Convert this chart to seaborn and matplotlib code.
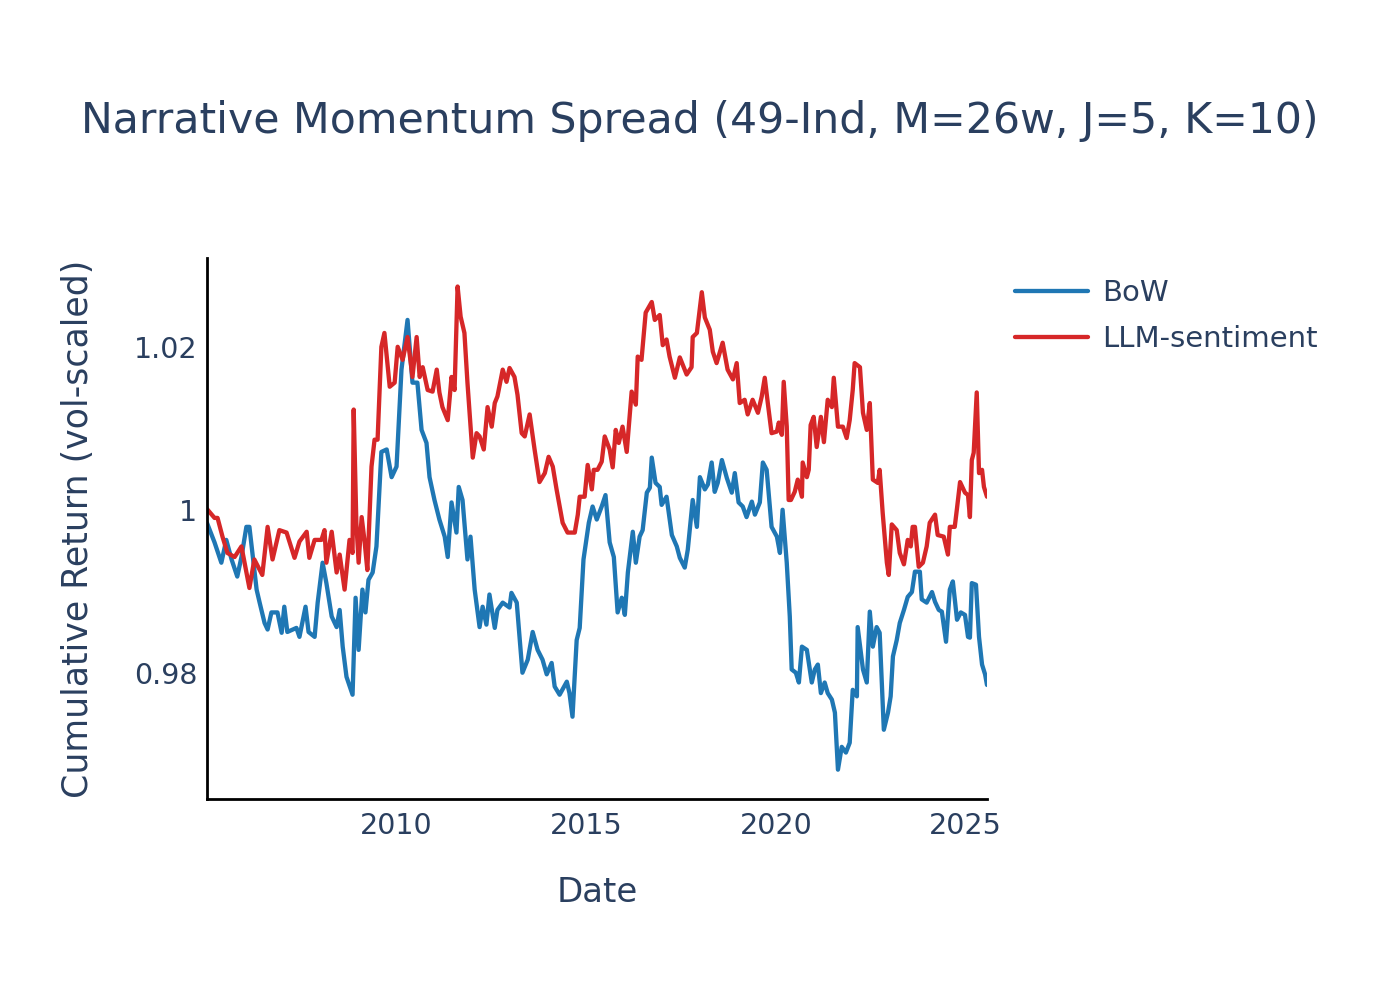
import pandas as pd
import matplotlib.pyplot as plt
from matplotlib.ticker import FuncFormatter
import seaborn as sns

# values (decimal year, cumulative return)
bow_year = [2005.00, 2005.20, 2005.38, 2005.51, 2005.65, 2005.80, 2005.91, 2006.04, 2006.12, 2006.20,
            2006.31, 2006.39, 2006.52, 2006.60, 2006.70, 2006.86, 2006.97, 2007.04, 2007.12, 2007.36,
            2007.44, 2007.60, 2007.68, 2007.84, 2007.92, 2008.05, 2008.15, 2008.29, 2008.42, 2008.50,
            2008.58, 2008.68, 2008.84, 2008.92, 2009.00, 2009.10, 2009.18, 2009.26, 2009.37, 2009.47,
            2009.60, 2009.74, 2009.87, 2010.00, 2010.13, 2010.29, 2010.42, 2010.55, 2010.66, 2010.79,
            2010.87, 2011.00, 2011.13, 2011.27, 2011.35, 2011.45, 2011.58, 2011.64, 2011.74, 2011.87,
            2011.95, 2012.06, 2012.19, 2012.27, 2012.37, 2012.45, 2012.59, 2012.66, 2012.80, 2012.98,
            2013.03, 2013.17, 2013.32, 2013.46, 2013.59, 2013.72, 2013.85, 2013.96, 2014.09, 2014.17,
            2014.30, 2014.49, 2014.56, 2014.64, 2014.75, 2014.83, 2014.93, 2015.07, 2015.17, 2015.28,
            2015.41, 2015.51, 2015.62, 2015.73, 2015.83, 2015.94, 2016.02, 2016.10, 2016.23, 2016.31,
            2016.41, 2016.49, 2016.60, 2016.68, 2016.73, 2016.83, 2016.94, 2016.99, 2017.12, 2017.26,
            2017.39, 2017.47, 2017.60, 2017.68, 2017.81, 2017.92, 2018.00, 2018.13, 2018.21, 2018.31,
            2018.39, 2018.47, 2018.58, 2018.71, 2018.84, 2018.92, 2019.02, 2019.13, 2019.23, 2019.37,
            2019.45, 2019.58, 2019.66, 2019.76, 2019.89, 2020.03, 2020.11, 2020.18, 2020.29, 2020.37,
            2020.42, 2020.53, 2020.61, 2020.69, 2020.82, 2020.95, 2021.03, 2021.11, 2021.19, 2021.29,
            2021.37, 2021.48, 2021.56, 2021.64, 2021.74, 2021.85, 2021.95, 2022.03, 2022.14, 2022.16,
            2022.30, 2022.40, 2022.48, 2022.56, 2022.66, 2022.74, 2022.85, 2022.96, 2023.03, 2023.09,
            2023.19, 2023.27, 2023.38, 2023.48, 2023.59, 2023.67, 2023.80, 2023.85, 2023.98, 2024.12,
            2024.20, 2024.30, 2024.38, 2024.49, 2024.59, 2024.67, 2024.78, 2024.88, 2024.99, 2025.07,
            2025.12, 2025.17, 2025.28, 2025.36, 2025.44, 2025.52, 2025.57]
bow_ret = [0.9984, 0.9960, 0.9935, 0.9963, 0.9939, 0.9918, 0.9942, 0.9979, 0.9979, 0.9947,
           0.9902, 0.9886, 0.9861, 0.9853, 0.9874, 0.9874, 0.9849, 0.9881, 0.9850, 0.9855,
           0.9844, 0.9881, 0.9850, 0.9844, 0.9886, 0.9935, 0.9910, 0.9869, 0.9856, 0.9877,
           0.9832, 0.9795, 0.9773, 0.9892, 0.9828, 0.9902, 0.9874, 0.9914, 0.9923, 0.9955,
           1.0071, 1.0074, 1.0040, 1.0053, 1.0172, 1.0233, 1.0156, 1.0156, 1.0098, 1.0082,
           1.0040, 1.0012, 0.9988, 0.9967, 0.9942, 1.0009, 0.9972, 1.0028, 1.0012, 0.9939,
           0.9967, 0.9902, 0.9856, 0.9881, 0.9859, 0.9896, 0.9855, 0.9877, 0.9886, 0.9880,
           0.9898, 0.9886, 0.9800, 0.9816, 0.9850, 0.9828, 0.9816, 0.9798, 0.9812, 0.9783,
           0.9773, 0.9789, 0.9775, 0.9746, 0.9840, 0.9855, 0.9939, 0.9984, 1.0004, 0.9988,
           1.0004, 1.0018, 0.9960, 0.9942, 0.9874, 0.9892, 0.9871, 0.9923, 0.9973, 0.9935,
           0.9967, 0.9975, 1.0021, 1.0027, 1.0064, 1.0033, 1.0028, 1.0006, 1.0016, 0.9969,
           0.9955, 0.9941, 0.9929, 0.9951, 1.0012, 0.9979, 1.0040, 1.0025, 1.0031, 1.0058,
           1.0022, 1.0033, 1.0061, 1.0039, 1.0021, 1.0045, 1.0009, 1.0004, 0.9991, 1.0010,
           0.9994, 1.0009, 1.0058, 1.0049, 0.9979, 0.9967, 0.9947, 1.0000, 0.9935, 0.9869,
           0.9804, 0.9800, 0.9788, 0.9832, 0.9828, 0.9788, 0.9804, 0.9810, 0.9775, 0.9788,
           0.9775, 0.9767, 0.9751, 0.9681, 0.9709, 0.9702, 0.9714, 0.9779, 0.9771, 0.9856,
           0.9804, 0.9788, 0.9875, 0.9832, 0.9856, 0.9849, 0.9730, 0.9751, 0.9771, 0.9820,
           0.9840, 0.9861, 0.9877, 0.9893, 0.9899, 0.9924, 0.9924, 0.9890, 0.9886, 0.9899,
           0.9887, 0.9877, 0.9875, 0.9838, 0.9902, 0.9912, 0.9865, 0.9874, 0.9871, 0.9844,
           0.9843, 0.9910, 0.9908, 0.9844, 0.9810, 0.9798, 0.9785]

llm_year = [2005.00, 2005.20, 2005.28, 2005.41, 2005.54, 2005.73, 2005.91, 2006.12, 2006.25, 2006.46,
            2006.60, 2006.73, 2006.91, 2007.10, 2007.31, 2007.44, 2007.63, 2007.70, 2007.84, 2008.02,
            2008.10, 2008.15, 2008.29, 2008.42, 2008.50, 2008.63, 2008.76, 2008.84, 2008.87, 2008.94,
            2009.00, 2009.08, 2009.16, 2009.23, 2009.34, 2009.42, 2009.50, 2009.60, 2009.68, 2009.82,
            2009.95, 2010.03, 2010.16, 2010.29, 2010.42, 2010.53, 2010.61, 2010.69, 2010.82, 2010.95,
            2011.06, 2011.13, 2011.21, 2011.35, 2011.45, 2011.53, 2011.61, 2011.69, 2011.79, 2011.87,
            2012.01, 2012.11, 2012.19, 2012.30, 2012.40, 2012.51, 2012.59, 2012.66, 2012.80, 2012.90,
            2012.98, 2013.11, 2013.19, 2013.30, 2013.38, 2013.51, 2013.64, 2013.77, 2013.91, 2014.01,
            2014.12, 2014.22, 2014.38, 2014.51, 2014.70, 2014.78, 2014.83, 2014.96, 2015.04, 2015.15,
            2015.20, 2015.30, 2015.41, 2015.49, 2015.62, 2015.70, 2015.78, 2015.86, 2015.96, 2016.07,
            2016.20, 2016.31, 2016.36, 2016.46, 2016.57, 2016.73, 2016.81, 2016.94, 2017.02, 2017.12,
            2017.20, 2017.34, 2017.47, 2017.65, 2017.78, 2017.81, 2017.92, 2018.05, 2018.13, 2018.26,
            2018.34, 2018.44, 2018.60, 2018.73, 2018.87, 2018.97, 2019.05, 2019.18, 2019.26, 2019.39,
            2019.53, 2019.63, 2019.71, 2019.79, 2019.89, 2020.03, 2020.08, 2020.16, 2020.21, 2020.29,
            2020.34, 2020.40, 2020.50, 2020.58, 2020.69, 2020.71, 2020.82, 2020.87, 2020.92, 2021.00,
            2021.08, 2021.19, 2021.27, 2021.37, 2021.48, 2021.53, 2021.64, 2021.77, 2021.87, 2021.95,
            2022.03, 2022.08, 2022.22, 2022.30, 2022.40, 2022.48, 2022.56, 2022.69, 2022.74, 2022.82,
            2022.93, 2022.98, 2023.06, 2023.19, 2023.27, 2023.38, 2023.48, 2023.56, 2023.61, 2023.67,
            2023.77, 2023.88, 2023.98, 2024.06, 2024.20, 2024.27, 2024.43, 2024.54, 2024.59, 2024.72,
            2024.78, 2024.86, 2024.99, 2025.07, 2025.12, 2025.17, 2025.22, 2025.30, 2025.36, 2025.44,
            2025.49, 2025.57]
llm_ret = [1.0001, 0.9990, 0.9990, 0.9967, 0.9947, 0.9942, 0.9955, 0.9904, 0.9939, 0.9920,
           0.9979, 0.9939, 0.9975, 0.9972, 0.9941, 0.9961, 0.9973, 0.9941, 0.9963, 0.9963,
           0.9975, 0.9935, 0.9973, 0.9923, 0.9945, 0.9902, 0.9963, 0.9947, 1.0123, 0.9984,
           0.9935, 0.9991, 0.9960, 0.9926, 1.0053, 1.0086, 1.0086, 1.0200, 1.0217, 1.0151,
           1.0156, 1.0200, 1.0184, 1.0212, 1.0163, 1.0212, 1.0163, 1.0175, 1.0147, 1.0145,
           1.0172, 1.0144, 1.0126, 1.0110, 1.0163, 1.0147, 1.0274, 1.0237, 1.0217, 1.0156,
           1.0064, 1.0094, 1.0090, 1.0074, 1.0126, 1.0102, 1.0131, 1.0139, 1.0172, 1.0157,
           1.0174, 1.0163, 1.0141, 1.0094, 1.0090, 1.0117, 1.0074, 1.0034, 1.0045, 1.0065,
           1.0053, 1.0025, 0.9984, 0.9972, 0.9972, 0.9994, 1.0016, 1.0016, 1.0055, 1.0025,
           1.0049, 1.0049, 1.0059, 1.0090, 1.0074, 1.0052, 1.0098, 1.0082, 1.0102, 1.0071,
           1.0145, 1.0129, 1.0188, 1.0184, 1.0242, 1.0255, 1.0233, 1.0239, 1.0202, 1.0209,
           1.0188, 1.0162, 1.0187, 1.0166, 1.0175, 1.0212, 1.0217, 1.0267, 1.0236, 1.0221,
           1.0194, 1.0180, 1.0205, 1.0172, 1.0160, 1.0180, 1.0131, 1.0135, 1.0117, 1.0135,
           1.0119, 1.0139, 1.0162, 1.0131, 1.0094, 1.0096, 1.0107, 1.0092, 1.0157, 1.0102,
           1.0012, 1.0012, 1.0022, 1.0037, 1.0016, 1.0058, 1.0040, 1.0049, 1.0104, 1.0114,
           1.0077, 1.0114, 1.0083, 1.0135, 1.0126, 1.0162, 1.0102, 1.0102, 1.0088, 1.0110,
           1.0147, 1.0180, 1.0175, 1.0119, 1.0098, 1.0131, 1.0037, 1.0033, 1.0049, 0.9996,
           0.9935, 0.9920, 0.9982, 0.9975, 0.9947, 0.9933, 0.9963, 0.9955, 0.9979, 0.9979,
           0.9930, 0.9935, 0.9955, 0.9984, 0.9994, 0.9969, 0.9967, 0.9945, 0.9979, 0.9979,
           1.0002, 1.0034, 1.0021, 1.0018, 0.9991, 1.0061, 1.0070, 1.0144, 1.0045, 1.0049,
           1.0028, 1.0016]

series_names = ["BoW", "LLM-sentiment"]
yticks = [0.98, 1.00, 1.02]
xticks = [2010, 2015, 2020, 2025]

df = pd.concat([
    pd.DataFrame({"Date": bow_year, "ret": bow_ret, "strategy": series_names[0]}),
    pd.DataFrame({"Date": llm_year, "ret": llm_ret, "strategy": series_names[1]}),
])

sns.set_theme(style="white")
plt.rcParams['font.family'] = ['DejaVu Sans']
txt = '#2a3f5f'

fig = plt.figure(figsize=(13.75, 10), dpi=100)
ax = fig.add_axes([0.1505, 0.201, 0.5673, 0.541])
sns.lineplot(data=df, x="Date", y="ret", hue="strategy", estimator=None, sort=False,
             palette={"BoW": "#1f77b4", "LLM-sentiment": "#d62728"},
             linewidth=3.1, ax=ax)

ax.set_xlim(df["Date"].min(), df["Date"].max())
ax.set_ylim(0.9645, 1.0309)
ax.set_xticks(xticks)
ax.set_yticks(yticks)
ax.yaxis.set_major_formatter(FuncFormatter(lambda v, p: f"{v:g}"))
ax.tick_params(length=0, labelsize=20.5, labelcolor=txt)
ax.tick_params(axis='x', pad=9)
ax.tick_params(axis='y', pad=7)
for s in ["top", "right"]:
    ax.spines[s].set_visible(False)
for s in ["left", "bottom"]:
    ax.spines[s].set_color("black")
    ax.spines[s].set_linewidth(2)

ax.set_xlabel("Date", fontsize=24.5, color=txt, labelpad=26)
ax.set_ylabel("Cumulative Return (vol-scaled)", fontsize=25, color=txt, labelpad=28)

fig.text(0.509, 0.867, "Narrative Momentum Spread (49-Ind, M=26w, J=5, K=10)",
         ha='center', va='baseline', fontsize=30.7, color=txt)

h, l = ax.get_legend_handles_labels()
ax.legend(h, l, loc='upper left', bbox_to_anchor=(0.738, 0.721), bbox_transform=fig.transFigure,
          frameon=False, fontsize=21, labelcolor=txt, handlelength=2.5, handletextpad=0.48,
          labelspacing=0.62, borderpad=0, borderaxespad=0)

plt.savefig('out.png', dpi=100)
